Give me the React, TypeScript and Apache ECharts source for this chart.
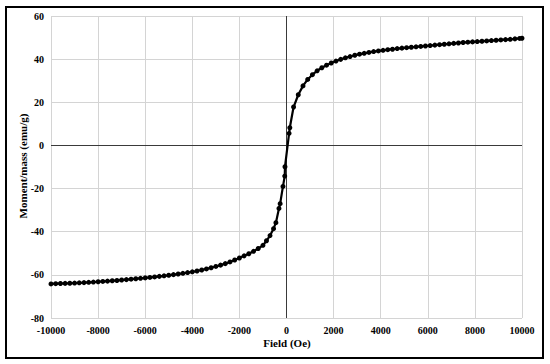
import React, { useEffect, useRef } from "react";
import * as echarts from "echarts";

const fieldOe: number[] = [
  -10000, -9800, -9600, -9400, -9200, -9000, -8800, -8600, -8400, -8200,
  -8000, -7800, -7600, -7400, -7200, -7000, -6800, -6600, -6400, -6200,
  -6000, -5800, -5600, -5400, -5200, -5000, -4800, -4600, -4400, -4200,
  -4000, -3800, -3600, -3400, -3200, -3000, -2800, -2600, -2400, -2200,
  -2000, -1800, -1600, -1400, -1200, -1000, -850, -700, -550, -450,
  -320, -270, -150, -75, -65, 110, 140, 300, 500, 700,
  900, 1100, 1300, 1500, 1700, 1900, 2100, 2300, 2500, 2700,
  2900, 3100, 3300, 3500, 3700, 3900, 4100, 4300, 4500, 4700,
  4900, 5100, 5300, 5500, 5700, 5900, 6100, 6300, 6500, 6700,
  6900, 7100, 7300, 7500, 7700, 7900, 8100, 8300, 8500, 8700,
  8900, 9100, 9300, 9500, 9700, 9900, 10000,
];

const momentMass: number[] = [
  -64.2, -64.1, -64.0, -63.95, -63.9, -63.8, -63.7, -63.6, -63.45, -63.35,
  -63.2, -63.05, -62.9, -62.75, -62.6, -62.4, -62.2, -62.0, -61.8, -61.6,
  -61.4, -61.2, -60.95, -60.7, -60.45, -60.2, -59.9, -59.6, -59.3, -58.95,
  -58.6, -58.2, -57.75, -57.25, -56.7, -56.1, -55.5, -54.8, -54.0, -53.1,
  -52.2, -51.2, -50.2, -49.1, -47.8, -46.3, -44.2, -41.8, -38.6, -35.8,
  -29.2, -27.0, -19.0, -14.2, -9.9, 5.6, 8.2, 17.8, 23.5, 27.6,
  30.6, 32.8, 34.6, 36.0, 37.2, 38.2, 39.1, 39.9, 40.6, 41.2,
  41.8, 42.3, 42.7, 43.1, 43.5, 43.8, 44.1, 44.4, 44.6, 44.9,
  45.1, 45.3, 45.5, 45.7, 45.9, 46.1, 46.3, 46.5, 46.7, 46.9,
  47.1, 47.3, 47.5, 47.7, 47.85, 48.0, 48.15, 48.3, 48.45, 48.6,
  48.75, 48.9, 49.05, 49.2, 49.4, 49.6, 49.7,
];

const xTitle = "Field (Oe)";
const yTitle = "Moment/mass (emu/g)";

const FONT = "'Liberation Serif', 'Times New Roman', serif";

export default function App() {
  const ref = useRef<HTMLDivElement>(null);

  useEffect(() => {
    if (!ref.current) return;
    const chart = echarts.init(ref.current, undefined, { renderer: "svg" });
    const points = fieldOe.map((x, i) => [x, momentMass[i]]);
    const labelStyle = {
      margin: 7,
      color: "#000",
      fontFamily: FONT,
      fontWeight: "bold" as const,
      fontSize: 10,
      formatter: (v: number) => String(v),
    };
    chart.setOption({
      animation: false,
      backgroundColor: "#ffffff",
      grid: { left: 51, right: 28, top: 16, bottom: 46 },
      xAxis: {
        type: "value",
        min: -10000,
        max: 10000,
        interval: 2000,
        axisLine: { show: false },
        axisTick: { show: false },
        axisLabel: labelStyle,
        splitLine: { show: true, lineStyle: { color: "#d4d4d4", width: 1 } },
      },
      yAxis: {
        type: "value",
        min: -80,
        max: 60,
        interval: 20,
        axisLine: { show: false },
        axisTick: { show: false },
        axisLabel: labelStyle,
        splitLine: { show: true, lineStyle: { color: "#d4d4d4", width: 1 } },
      },
      series: [
        {
          type: "line",
          data: points,
          symbol: "circle",
          symbolSize: 5,
          itemStyle: { color: "#000" },
          lineStyle: { color: "#000", width: 2.2 },
          z: 3,
          markLine: {
            silent: true,
            symbol: "none",
            label: { show: false },
            lineStyle: { color: "#3a3a3a", width: 1, type: "solid" },
            data: [{ xAxis: 0 }, { yAxis: 0 }],
            z: 2,
          },
        },
      ],
      graphic: [
        {
          type: "rect",
          shape: { x: 6, y: 7, width: 537, height: 351 },
          style: { fill: "none", stroke: "#000", lineWidth: 2 },
          silent: true,
        },
        {
          type: "text",
          x: 287,
          y: 343,
          style: {
            text: xTitle,
            fill: "#000",
            font: `bold 11px ${FONT}`,
            textAlign: "center",
            textVerticalAlign: "middle",
          },
        },
        {
          type: "text",
          x: 23,
          y: 166,
          rotation: Math.PI / 2,
          style: {
            text: yTitle,
            fill: "#000",
            font: `bold 11px ${FONT}`,
            textAlign: "center",
            textVerticalAlign: "middle",
          },
        },
      ],
    });
    return () => chart.dispose();
  }, []);

  return (
    <div
      ref={ref}
      style={{ position: "absolute", left: 0, top: 0, width: 550, height: 364 }}
    />
  );
}
